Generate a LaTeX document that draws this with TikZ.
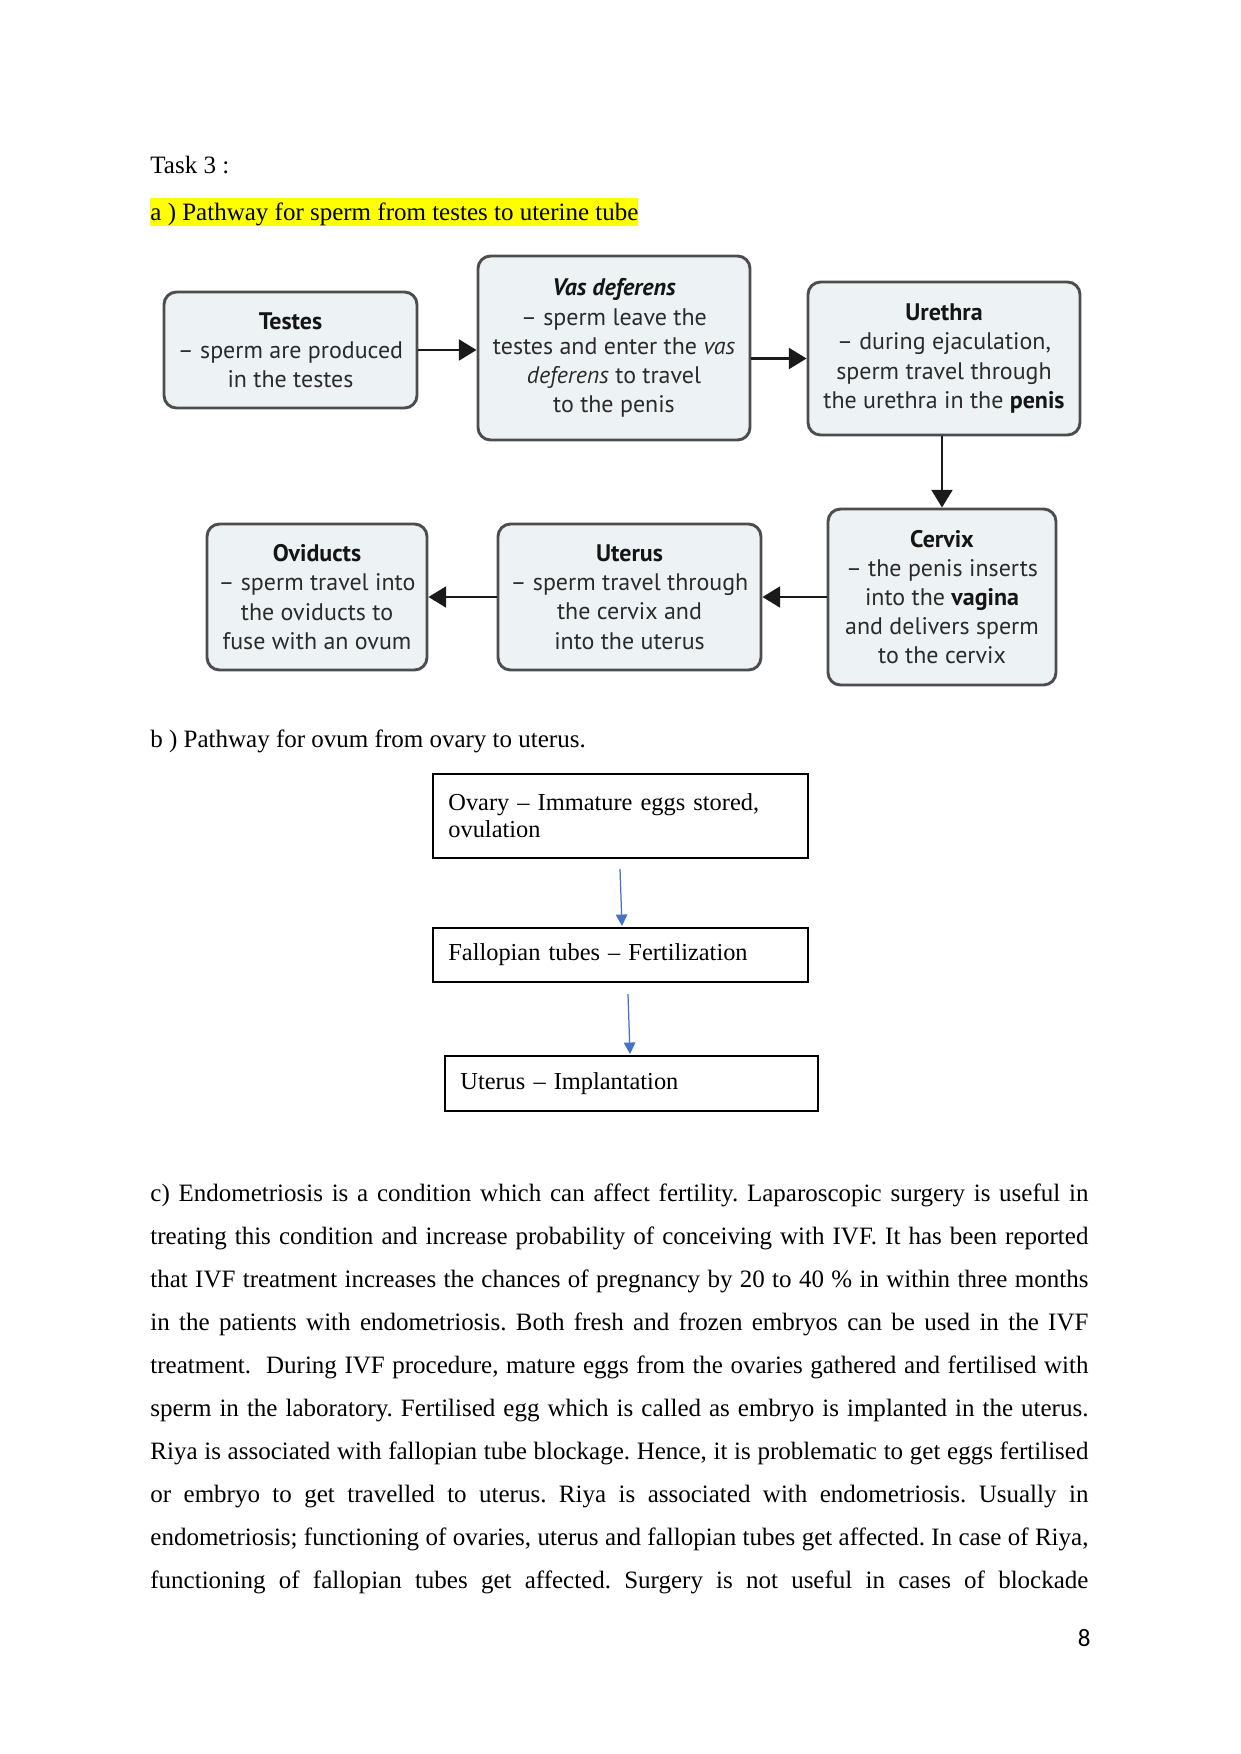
\documentclass[tikz,border=0pt]{standalone}
\usepackage{fontspec}
\setmainfont{Liberation Serif}
\newfontfamily\boxfont{PT Sans}
\newfontfamily\numfont{Carlito}
\usetikzlibrary{arrows.meta}
\newdimen\pxu \pxu=0.48pt
\definecolor{boxfill}{HTML}{EDF2F5}
\definecolor{boxline}{HTML}{4D4D4D}
\definecolor{boxtext}{HTML}{2B2B2B}
\definecolor{titlecol}{HTML}{151515}
\definecolor{arrowcol}{HTML}{1A1A1A}
\definecolor{arrowblue}{HTML}{4472C4}
\definecolor{hilite}{HTML}{FFFF00}
\newcommand\ttl[1]{\textcolor{titlecol}{\textbf{#1}}}
\newcommand\jline[1]{\makebox[938\pxu][s]{#1}}
\frenchspacing
\begin{document}
\begin{tikzpicture}[x=0.48pt,y=-0.48pt,
  flowbox/.style={draw=boxline, fill=boxfill, line width=1.4pt, rounded corners=6pt,
    align=center, inner sep=0pt, text=boxtext,
    font=\boxfont\fontsize{11.5}{14}\selectfont},
  flowarrow/.style={draw=arrowcol, line width=1.3pt, -{Triangle[length=8.5pt,width=10pt]}},
  plainbox/.style={draw=black, line width=0.75pt, align=left, inner xsep=7.5pt,
    inner ysep=0pt, anchor=north west, font=\fontsize{11.7}{13}\selectfont},
  bluearrow/.style={draw=arrowblue, line width=0.6pt, -{Triangle[length=5.5pt,width=5.5pt]}},
  bodyline/.style={anchor=base west, inner sep=0pt, font=\fontsize{12}{14}\selectfont}
]
\useasboundingbox[fill=white] (0,0) rectangle (1241,1754);

% headings
\node[bodyline] (task) at (150,173) {Task 3 :};
\node[bodyline, fill=hilite, text height=10.56pt, text depth=2.9pt] (heada) at (150,220)
  {a ) Pathway for sperm from testes to uterine tube};

% part a) flow
\node[flowbox, minimum width=253*0.48pt, minimum height=116*0.48pt] (testes) at (290.5,350)
  {\ttl{Testes}\\– sperm are produced\\in the testes};
\node[flowbox, minimum width=272*0.48pt, minimum height=184*0.48pt] (vas) at (614,348)
  {\textcolor{titlecol}{\bfseries\itshape Vas deferens}\\– sperm leave the\\testes and enter the \textit{vas}\\\textit{deferens} to travel\\to the penis};
\node[flowbox, minimum width=272*0.48pt, minimum height=153*0.48pt] (urethra) at (944,358.5)
  {\ttl{Urethra}\\– during ejaculation,\\sperm travel through\\the urethra in the \ttl{penis}};
\node[flowbox, minimum width=228*0.48pt, minimum height=176*0.48pt] (cervix) at (942,597)
  {\ttl{Cervix}\\– the penis inserts\\into the \ttl{vagina}\\and delivers sperm\\to the cervix};
\node[flowbox, minimum width=263*0.48pt, minimum height=146*0.48pt] (uterus) at (629.5,597)
  {\ttl{Uterus}\\– sperm travel through\\the cervix and\\into the uterus};
\node[flowbox, minimum width=220*0.48pt, minimum height=146*0.48pt] (oviducts) at (317,597)
  {\ttl{Oviducts}\\– sperm travel into\\the oviducts to\\fuse with an ovum};

\draw[flowarrow] (testes.east) -- (testes.east -| vas.west);
\draw[flowarrow] (urethra.west -| vas.east) -- (urethra.west);
\draw[flowarrow] (urethra.south -| cervix.north) -- (cervix.north);
\draw[flowarrow] (cervix.west) -- (cervix.west -| uterus.east);
\draw[flowarrow] (uterus.west) -- (uterus.west -| oviducts.east);

% part b)
\node[bodyline] (headb) at (150,747) {b ) Pathway for ovum from ovary to uterus.};
\node[plainbox, minimum height=84*0.48pt, text width=375*0.48pt-15pt] (ovary) at (432,773)
  {Ovary – Immature eggs stored,\\ovulation};
\node[plainbox, minimum height=54*0.48pt, text width=375*0.48pt-15pt] (fallopian) at (432,927)
  {Fallopian tubes – Fertilization};
\node[plainbox, minimum height=55*0.48pt, text width=373*0.48pt-15pt] (uterusb) at (444,1055)
  {Uterus – Implantation};
\coordinate (b1s) at (620,869);
\coordinate (b1e) at (622,926);
\coordinate (b2s) at (628,994);
\coordinate (b2e) at (630,1054);
\draw[bluearrow] (b1s) -- (b1e);
\draw[bluearrow] (b2s) -- (b2e);

% part c)
\node[bodyline] (l1) at (150,1201) {\jline{c) Endometriosis is a condition which can affect fertility. Laparoscopic surgery is useful in}};
\node[bodyline] (l2) at (150,1244) {\jline{treating this condition and increase probability of conceiving with IVF. It has been reported}};
\node[bodyline] (l3) at (150,1287) {\jline{that IVF treatment increases the chances of pregnancy by 20 to 40 \% in within three months}};
\node[bodyline] (l4) at (150,1330) {\jline{in the patients with endometriosis. Both fresh and frozen embryos can be used in the IVF}};
\node[bodyline] (l5) at (150,1373) {\jline{treatment.~ During IVF procedure, mature eggs from the ovaries gathered and fertilised with}};
\node[bodyline] (l6) at (150,1416) {\jline{sperm in the laboratory. Fertilised egg which is called as embryo is implanted in the uterus.}};
\node[bodyline] (l7) at (150,1459) {\jline{Riya is associated with fallopian tube blockage. Hence, it is problematic to get eggs fertilised}};
\node[bodyline] (l8) at (150,1502) {\jline{or embryo to get travelled to uterus. Riya is associated with endometriosis. Usually in}};
\node[bodyline] (l9) at (150,1545) {\jline{endometriosis; functioning of ovaries, uterus and fallopian tubes get affected. In case of Riya,}};
\node[bodyline] (l10) at (150,1588) {\jline{functioning of fallopian tubes get affected. Surgery is not useful in cases of blockade}};

\node[anchor=base east, inner sep=0pt, font=\numfont\fontsize{12}{14}\selectfont] (pagenum) at (1091,1646) {8};
\end{tikzpicture}
\end{document}
